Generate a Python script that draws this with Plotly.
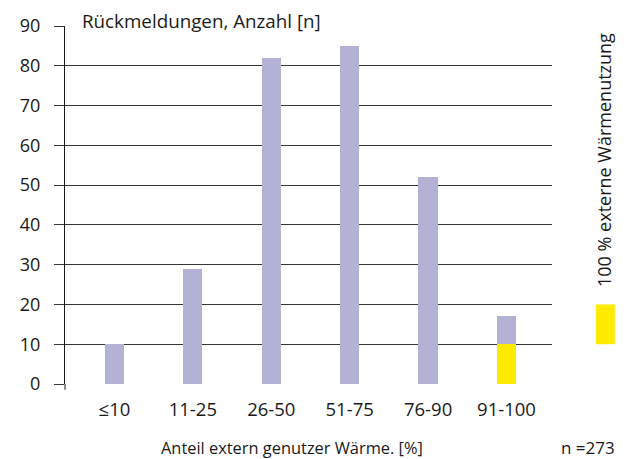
import plotly.graph_objects as go

categories = ["≤10", "11-25", "26-50", "51-75", "76-90", "91-100"]
total_responses = [10, 29, 82, 85, 52, 17]
full_external_use = [0, 0, 0, 0, 0, 10]
y_ticks = [0, 10, 20, 30, 40, 50, 60, 70, 80]

LAV = "#b4b2d4"
YEL = "#ffea00"
FONT = "Open Sans"
TXT = "#1a1a1a"

rest = [t - f for t, f in zip(total_responses, full_external_use)]
xi = list(range(len(categories)))

fig = go.Figure()
fig.add_trace(go.Bar(x=xi, y=full_external_use, marker_color=YEL, width=0.245,
                     marker_line_width=0, showlegend=False))
fig.add_trace(go.Bar(x=xi, y=rest, marker_color=LAV, width=0.245,
                     marker_line_width=0, showlegend=False))
# invisible trace to activate the second y axis (carries only the top tick)
fig.add_trace(go.Scatter(x=[0], y=[0], yaxis="y2", mode="markers",
                         marker=dict(opacity=0), showlegend=False, hoverinfo="skip"))

fig.update_layout(
    width=619, height=451,
    margin=dict(l=57, r=75, t=18, b=75, autoexpand=False),
    barmode="stack",
    plot_bgcolor="white", paper_bgcolor="white",
    font=dict(family=FONT, size=18, color=TXT),
    xaxis=dict(
        range=[-0.63, 5.58], tickvals=xi, ticktext=categories,
        showgrid=False, zeroline=False, showline=False, ticks="",
        tickfont=dict(size=18.5, color=TXT), ticklabelstandoff=12,
    ),
    yaxis=dict(
        range=[0, 90], tickvals=y_ticks, showgrid=True, gridcolor="#353535", gridwidth=1,
        zeroline=False, showline=True, linecolor=TXT, linewidth=1,
        ticks="outside", ticklen=10, tickcolor="#353535", tickwidth=1,
        tickfont=dict(size=18, color=TXT), ticklabelstandoff=10,
    ),
    yaxis2=dict(
        range=[0, 90], tickvals=[90], overlaying="y", side="left", showgrid=False,
        zeroline=False, showline=False, ticks="outside", ticklen=10,
        tickcolor="#353535", tickwidth=1, tickfont=dict(size=18, color=TXT),
        ticklabelstandoff=10,
    ),
)

# small extension of the y axis below the baseline
fig.add_shape(type="line", xref="paper", yref="paper", x0=0, x1=0, y0=0, y1=-0.016,
              line=dict(color=TXT, width=1))

fig.add_annotation(text="Rückmeldungen, Anzahl [n]", xref="paper", yref="paper",
                   x=0.0308, y=1.014, xanchor="left", yanchor="middle", showarrow=False,
                   font=dict(size=18.8))
fig.add_annotation(text="Anteil extern genutzer Wärme. [%]", xref="paper", yref="paper",
                   x=0.466, y=-0.176, xanchor="center", yanchor="middle", showarrow=False,
                   font=dict(size=16.4))
fig.add_annotation(text="n =273", xref="paper", yref="paper", x=1.1335, y=-0.176,
                   xanchor="right", yanchor="middle", showarrow=False, font=dict(size=17))
fig.add_annotation(text="100 % externe Wärmenutzung", xref="paper", yref="paper",
                   x=1.107, y=0.626, textangle=-90, xanchor="center", yanchor="middle",
                   showarrow=False, font=dict(size=18))
fig.add_shape(type="rect", xref="paper", yref="y", x0=1.090, x1=1.129, y0=10, y1=20,
              line_width=0, fillcolor=YEL)

fig.write_html("out.html")
